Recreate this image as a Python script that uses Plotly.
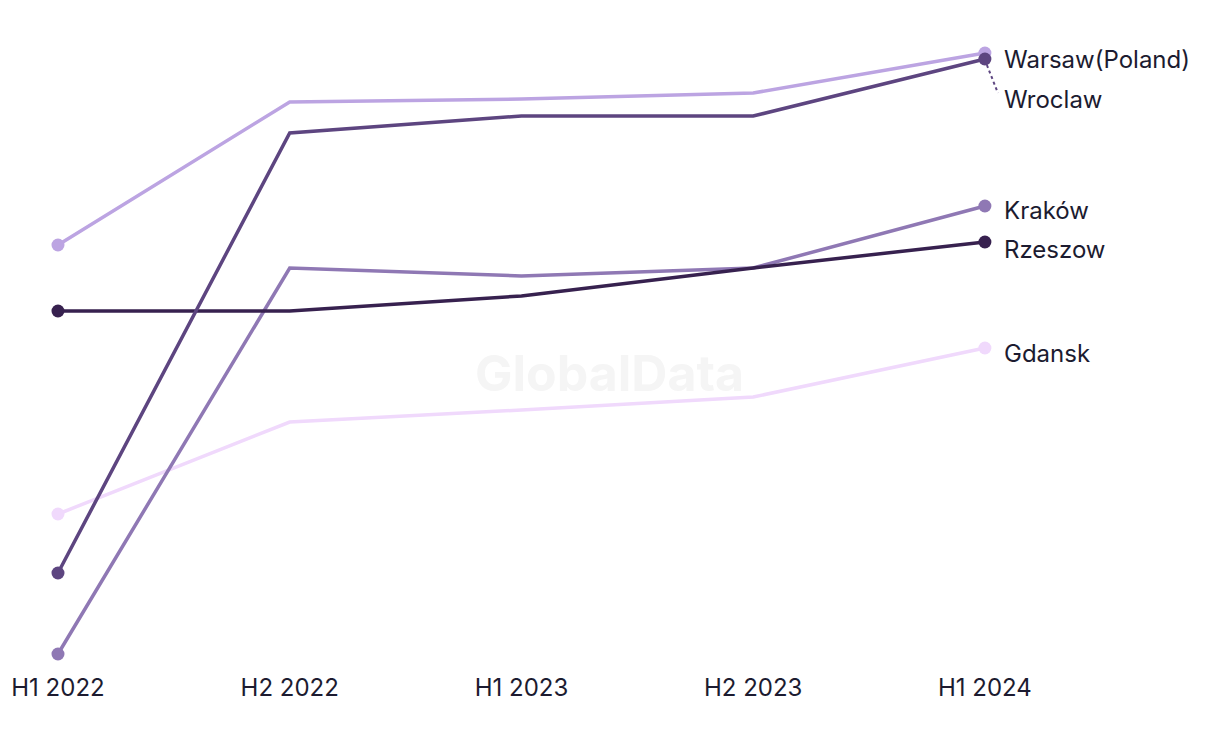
import plotly.graph_objects as go

periods = ["H1 2022", "H2 2022", "H1 2023", "H2 2023", "H1 2024"]

warsaw = [45.5, 59.8, 60.1, 60.7, 64.7]
wroclaw = [12.7, 56.7, 58.4, 58.4, 64.1]
krakow = [4.6, 43.2, 42.4, 43.2, 49.4]
rzeszow = [38.9, 38.9, 40.4, 43.2, 45.8]
gdansk = [18.6, 27.8, 29.0, 30.3, 35.2]

series = [
    ("Gdansk", gdansk, "#f0d9fc", -5),
    ("Warsaw(Poland)", warsaw, "#bca4e2", -6),
    ("Kraków", krakow, "#8f78b4", -4),
    ("Rzeszow", rzeszow, "#37214f", -7),
    ("Wroclaw", wroclaw, "#5d4580", -40),
]

TEXT = "#1c1b30"
FONT = "Inter, Roboto, sans-serif"

x = list(range(len(periods)))
fig = go.Figure()
annotations = []
for name, vals, color, shift in series:
    fig.add_trace(go.Scatter(
        x=x, y=vals, mode="lines+markers", name=name,
        line=dict(color=color, width=3.5),
        marker=dict(color=color, size=[13, 0, 0, 0, 13], opacity=1,
                    line=dict(width=0)),
        hoverinfo="x+y+name",
    ))
    annotations.append(dict(
        x=x[-1], y=vals[-1], xref="x", yref="y", text=name, showarrow=False,
        xanchor="left", yanchor="middle", xshift=17, yshift=shift,
        font=dict(family=FONT, size=24, color=TEXT),
    ))

annotations.append(dict(
    x=0.4934, y=0.45, xref="paper", yref="paper", text="<b>GlobalData</b>",
    showarrow=False, font=dict(family=FONT, size=50, color="#f5f5f5"),
))

fig.add_shape(
    type="line", xref="x", yref="y", xsizemode="pixel", ysizemode="pixel",
    xanchor=x[-1], yanchor=wroclaw[-1], x0=2, x1=13, y0=-6, y1=-34,
    line=dict(color="#5d4580", width=2, dash="dot"),
)

fig.update_layout(
    width=1220, height=744,
    margin=dict(l=0, r=0, t=0, b=81),
    paper_bgcolor="white", plot_bgcolor="white",
    showlegend=False,
    annotations=annotations,
    xaxis=dict(
        tickmode="array", tickvals=x, ticktext=periods,
        range=[-0.2157, 5.049], showgrid=False, zeroline=False, showline=False,
        tickfont=dict(family=FONT, size=24, color=TEXT), ticks="",
        automargin=False,
    ),
    yaxis=dict(range=[2.9, 69.2], visible=False, automargin=False),
)

fig.write_html("out.html")
